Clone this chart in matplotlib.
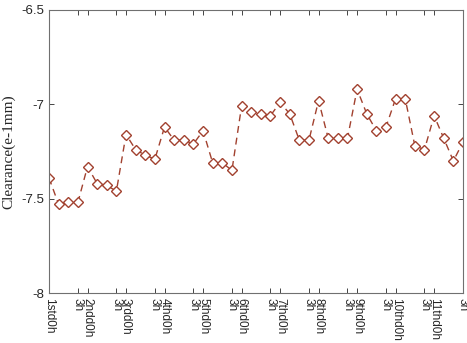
import matplotlib
matplotlib.use("Agg")
import matplotlib.pyplot as plt
import numpy as np

# data
clearance = [-7.39, -7.53, -7.52, -7.52, -7.33, -7.42, -7.43, -7.46,
             -7.16, -7.24, -7.27, -7.29, -7.12, -7.19, -7.19, -7.21,
             -7.14, -7.31, -7.31, -7.35, -7.01, -7.04, -7.05, -7.06,
             -6.99, -7.05, -7.19, -7.19, -6.98, -7.18, -7.18, -7.18,
             -6.92, -7.05, -7.14, -7.12, -6.97, -6.97, -7.22, -7.24,
             -7.06, -7.18, -7.30, -7.20]
xtick_pos = [0, 3, 4, 7, 8, 11, 12, 15, 16, 19, 20, 23, 24, 27, 28, 31, 32, 35, 36, 39, 40, 43]
xtick_labels = ["1std0h", "3h", "2ndd0h", "3h", "3rdd0h", "3h", "4thd0h", "3h",
                "5thd0h", "3h", "6thd0h", "3h", "7thd0h", "3h", "8thd0h", "3h",
                "9thd0h", "3h", "10thd0h", "3h", "11thd0h", "3h"]
ytick_vals = [-8, -7.5, -7, -6.5]
ytick_labels = ["-8", "-7.5", "-7", "-6.5"]
ylabel = "Clearance(e-1mm)"

fig = plt.figure(figsize=(4.67, 3.43), dpi=100)
ax = fig.add_axes([49/467, 1-293/343, (463-49)/467, (293-10)/343])

x = np.arange(len(clearance))
color = "#a2412f"
ax.plot(x, clearance, linestyle=(0, (5, 3.5)), color=color, linewidth=1.0,
        marker="D", markersize=5.5, markerfacecolor="white",
        markeredgecolor=color, markeredgewidth=1.0)

ax.set_xlim(0, 43)
ax.set_ylim(-8, -6.5)
ax.set_xticks(xtick_pos)
ax.set_xticklabels(xtick_labels, rotation=-90, ha="center", va="top",
                   fontsize=8.5, family="Liberation Sans", color="#262626")
ax.set_yticks(ytick_vals)
ax.set_yticklabels(ytick_labels, fontsize=9.5, family="Liberation Sans", color="#262626")
ax.tick_params(axis="both", direction="in", length=3.5, width=0.6, color="#262626",
               top=True, right=True, pad=3.5)
for s in ax.spines.values():
    s.set_color("#707070")
    s.set_linewidth(0.8)
ax.set_ylabel(ylabel, family="Liberation Serif", fontsize=11, color="#262626", labelpad=4)

fig.savefig("out.png", dpi=100)
